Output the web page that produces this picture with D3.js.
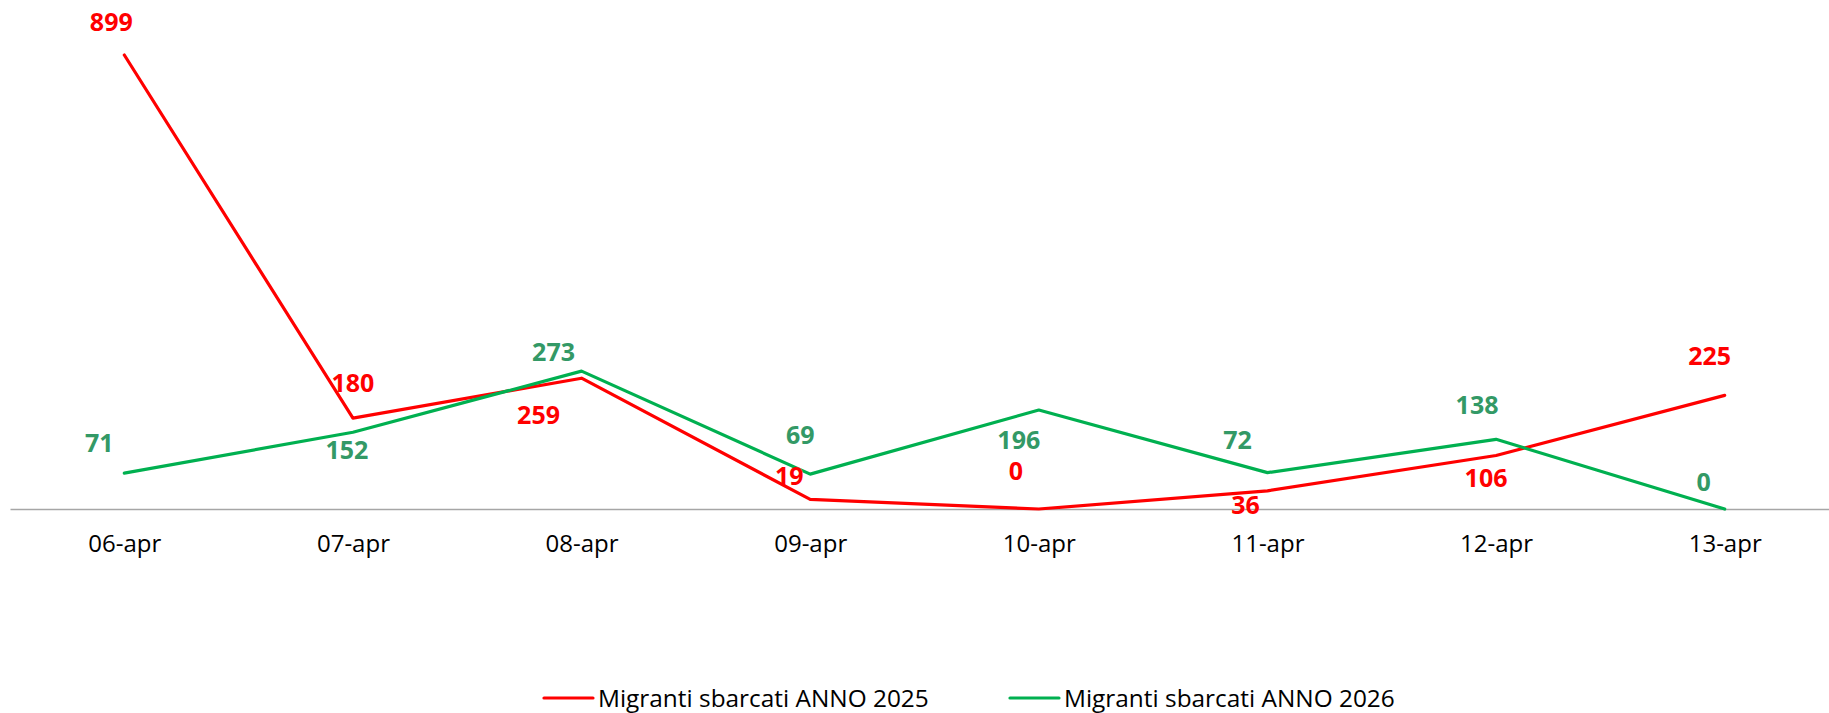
<!DOCTYPE html>
<html>
<head>
<meta charset="utf-8">
<script src="https://cdn.jsdelivr.net/npm/d3@7"></script>
<style>
  body { margin: 0; background: #fff; }
  svg { display: block; font-family: "Open Sans", sans-serif; }
</style>
</head>
<body>
<script>
const WIDTH = 1829;
const HEIGHT = 713;
const BASELINE = 509;
const TOP = 4;

const days = ["06-apr", "07-apr", "08-apr", "09-apr", "10-apr", "11-apr", "12-apr", "13-apr"];
const sbarcati2025 = [899, 180, 259, 19, 0, 36, 106, 225];
const sbarcati2026 = [71, 152, 273, 69, 196, 72, 138, 0];
const seriesNames = ["Migranti sbarcati ANNO 2025", "Migranti sbarcati ANNO 2026"];

// label offsets from each point, as placed in the original
const shift2025 = [[-13, -33], [0, -35], [-43, 37], [-21, -23], [-23, -38], [-22, 14], [-10, 23], [-15, -39]];
const shift2026 = [[-25, -30], [-6, 18], [-28, -19], [-10, -39], [-20, 30], [-30, -32], [-19, -34], [-21, -27]];

const series = [
  { name: seriesNames[0], values: sbarcati2025, shift: shift2025, line: "#ff0000", label: "#ff0000" },
  { name: seriesNames[1], values: sbarcati2026, shift: shift2026, line: "#00b050", label: "#339966" }
];

const svg = d3.select("body").append("svg")
  .attr("width", WIDTH)
  .attr("height", HEIGHT);

const x = d3.scalePoint().domain(days).range([10, 1839]).padding(0.5);
const y = d3.scaleLinear().domain([0, 1000]).range([BASELINE, TOP]);

const axis = svg.append("g")
  .attr("transform", `translate(0,${BASELINE})`)
  .call(d3.axisBottom(x).tickSize(0).tickSizeOuter(0).tickPadding(26));
axis.select(".domain").attr("stroke", "#a6a6a6").attr("stroke-width", 1.5);
axis.selectAll("text")
  .attr("font-size", "24px")
  .attr("font-family", "'Open Sans', sans-serif")
  .attr("fill", "#000");

const line = d3.line()
  .x((d, i) => x(days[i]))
  .y((d) => y(d));

for (const s of series) {
  svg.append("path")
    .datum(s.values)
    .attr("fill", "none")
    .attr("stroke", s.line)
    .attr("stroke-width", 3.2)
    .attr("stroke-linejoin", "round")
    .attr("stroke-linecap", "round")
    .attr("d", line);
}

for (const s of series) {
  svg.append("g").selectAll("text")
    .data(s.values)
    .join("text")
    .attr("x", (d, i) => x(days[i]) + s.shift[i][0])
    .attr("y", (d, i) => y(d) + s.shift[i][1])
    .attr("dy", "0.35em")
    .attr("text-anchor", "middle")
    .attr("font-size", "25px")
    .attr("font-weight", "bold")
    .attr("fill", s.label)
    .text((d) => d);
}

// legend
const legendX = [544, 1010];
const legend = svg.append("g").selectAll("g")
  .data(series)
  .join("g")
  .attr("transform", (d, i) => `translate(${legendX[i]},698)`);
legend.append("line")
  .attr("x1", 0).attr("x2", 49)
  .attr("stroke", (d) => d.line)
  .attr("stroke-width", 3.2)
  .attr("stroke-linecap", "round");
legend.append("text")
  .attr("x", 54)
  .attr("dy", "0.35em")
  .attr("font-size", "24.4px")
  .attr("fill", "#000")
  .text((d) => d.name);
</script>
</body>
</html>
